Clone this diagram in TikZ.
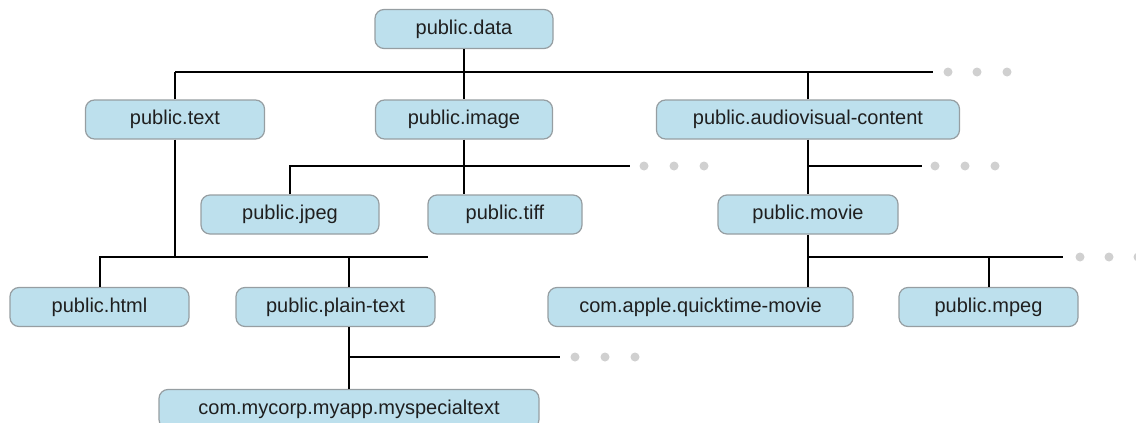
\documentclass[tikz,border=0pt]{standalone}
\usepackage{fontspec}
\setmainfont{Liberation Sans}
\usetikzlibrary{positioning}

\definecolor{utiblue}{RGB}{189,224,237}
\definecolor{utiedge}{RGB}{150,158,162}
\definecolor{dotgray}{RGB}{208,208,208}

\begin{document}
\begin{tikzpicture}[x=0.5pt, y=-0.5pt,
    uti/.style={draw=utiedge, fill=utiblue, rounded corners=4.5pt, line width=0.6pt,
        minimum height=19.5pt, inner sep=0pt, text=black!88,
        font=\fontsize{10}{12}\selectfont},
    bus/.style={line width=1pt},
    more/.style={circle, fill=dotgray, inner sep=0pt, minimum size=4.5pt}]
    \useasboundingbox (0,0) rectangle (1136,423);

    % the type tree
    \node[uti, minimum width=89pt] (data) at (464,29) {public.data};
    \node[uti, minimum width=89.5pt] (text) at (175,119.5) {public.text};
    \node[uti, minimum width=88.5pt] (image) at (464,119.5) {public.image};
    \node[uti, minimum width=151.5pt] (av) at (808,119.5) {public.audiovisual-content};
    \node[uti, minimum width=89pt] (jpeg) at (290,214.5) {public.jpeg};
    \node[uti, minimum width=77pt] (tiff) at (505,214.5) {public.tiff};
    \node[uti, minimum width=90pt] (movie) at (808,214.5) {public.movie};
    \node[uti, minimum width=89.5pt] (html) at (99.5,307) {public.html};
    \node[uti, minimum width=99.5pt] (plain) at (335.5,307) {public.plain-text};
    \node[uti, minimum width=152.5pt] (qt) at (700.5,307) {com.apple.quicktime-movie};
    \node[uti, minimum width=89.5pt] (mpeg) at (988.5,307) {public.mpeg};
    \node[uti, minimum width=190pt] (mycorp) at (349,409) {com.mycorp.myapp.myspecialtext};

    % open ends of the buses
    \coordinate (data-l) at (175,72);
    \coordinate (data-r) at (933,72);
    \coordinate (image-r) at (630,166);
    \coordinate (av-r) at (922,166);
    \coordinate (text-r) at (428,257);
    \coordinate (movie-r) at (1063,257);
    \coordinate (plain-r) at (560,357);

    \draw[bus] (data.south) -- (image.north);
    \draw[bus] (data-l) -- (data-r);
    \draw[bus] (text.north) -- (data-l);
    \draw[bus] (av.north) -- (av.north |- data-r);

    \draw[bus] (image.south) -- (image.south |- tiff.north);
    \draw[bus] (jpeg.north) |- (image-r);

    \draw[bus] (av.south) -- (movie.north);
    \draw[bus] (av.south |- av-r) -- (av-r);

    \draw[bus] (text.south) -- (text.south |- text-r);
    \draw[bus] (html.north) |- (text-r);
    \draw[bus] (plain.north -| mycorp.north) -- (mycorp.north |- text-r);

    \draw[bus] (movie.south) -- (movie.south |- qt.north);
    \draw[bus] (movie.south |- movie-r) -- (movie-r);
    \draw[bus] (mpeg.north) -- (mpeg.north |- movie-r);

    \draw[bus] (plain.south -| mycorp.north) -- (mycorp.north);
    \draw[bus] (mycorp.north |- plain-r) -- (plain-r);

    % more types follow
    \foreach \x [count=\i] in {948,977,1007} \node[more] (data-more\i) at (\x,72) {};
    \foreach \x [count=\i] in {644,674,704} \node[more] (image-more\i) at (\x,166) {};
    \foreach \x [count=\i] in {935,965,995} \node[more] (av-more\i) at (\x,166) {};
    \foreach \x [count=\i] in {1080,1109,1138} \node[more] (movie-more\i) at (\x,257) {};
    \foreach \x [count=\i] in {575,605,635} \node[more] (plain-more\i) at (\x,357) {};
\end{tikzpicture}
\end{document}
